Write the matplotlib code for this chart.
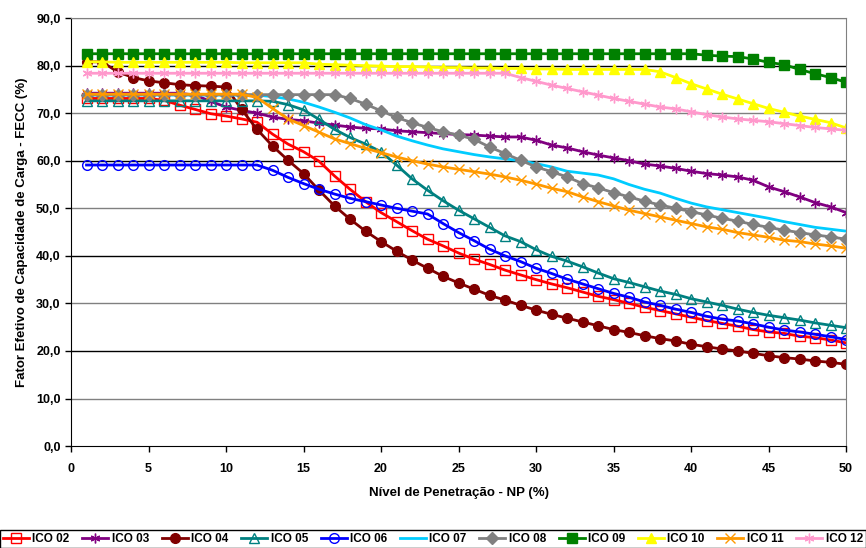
# FECC x nivel de penetracao, curvas ICO 02 a ICO 12
import matplotlib
matplotlib.use('Agg')
import matplotlib.pyplot as plt
from matplotlib.ticker import FuncFormatter

plt.rcParams['font.family'] = ['Liberation Sans', 'DejaVu Sans']
plt.rcParams['font.weight'] = 'bold'

np_pct = list(range(1, 51))

ico02 = [73.1, 73.1, 73.1, 73.1, 73.1, 72.7, 71.7, 70.8, 69.9, 69.4,
         68.8, 68.1, 65.6, 63.5, 61.9, 59.9, 56.8, 54.0, 51.4, 49.1,
         47.2, 45.3, 43.5, 42.1, 40.6, 39.3, 38.2, 37.0, 36.0, 35.0,
         34.1, 33.3, 32.4, 31.5, 30.8, 30.0, 29.2, 28.5, 27.8, 27.1,
         26.4, 25.8, 25.2, 24.5, 24.0, 23.7, 23.1, 22.8, 22.3, 21.7]
ico03 = [74.2, 74.2, 74.2, 74.2, 74.2, 74.2, 74.2, 73.8, 72.5, 71.3,
         70.6, 70.0, 69.2, 68.7, 68.4, 67.9, 67.5, 67.1, 66.8, 66.7,
         66.3, 66.1, 65.9, 65.7, 65.5, 65.4, 65.2, 65.0, 65.0, 64.3,
         63.3, 62.7, 61.9, 61.2, 60.6, 60.0, 59.3, 58.9, 58.4, 57.8,
         57.3, 57.0, 56.6, 55.9, 54.5, 53.5, 52.4, 51.2, 50.3, 49.1]
ico04 = [80.8, 80.8, 78.7, 77.5, 76.8, 76.4, 76.0, 75.8, 75.7, 75.5,
         70.8, 66.6, 63.1, 60.1, 57.3, 53.8, 50.5, 47.7, 45.2, 43.0,
         41.0, 39.1, 37.4, 35.7, 34.3, 33.0, 31.7, 30.7, 29.6, 28.6,
         27.7, 26.9, 26.1, 25.3, 24.5, 23.9, 23.2, 22.6, 22.1, 21.4,
         20.9, 20.4, 20.0, 19.5, 19.0, 18.6, 18.3, 17.9, 17.6, 17.2]
ico05 = [72.6, 72.6, 72.6, 72.6, 72.6, 72.6, 72.6, 72.6, 72.6, 72.6,
         72.6, 72.6, 72.5, 71.8, 70.7, 68.7, 66.6, 64.9, 63.5, 61.9,
         59.1, 56.2, 53.8, 51.6, 49.6, 47.8, 46.0, 44.2, 43.0, 41.3,
         39.9, 38.9, 37.7, 36.4, 35.2, 34.4, 33.5, 32.6, 31.9, 31.0,
         30.3, 29.6, 28.8, 28.1, 27.5, 27.0, 26.5, 25.9, 25.4, 24.9]
ico06 = [59.1, 59.1, 59.1, 59.1, 59.1, 59.1, 59.1, 59.1, 59.1, 59.1,
         59.1, 59.1, 58.0, 56.5, 55.2, 54.0, 53.0, 52.1, 51.4, 50.7,
         50.0, 49.4, 48.8, 46.8, 44.9, 43.2, 41.4, 40.0, 38.8, 37.4,
         36.3, 35.1, 34.1, 33.1, 32.1, 31.3, 30.3, 29.6, 28.8, 28.1,
         27.3, 26.7, 26.3, 25.7, 25.0, 24.4, 24.0, 23.5, 23.0, 22.4]
ico07 = [73.8, 73.8, 73.8, 73.8, 73.8, 73.8, 73.8, 73.8, 73.8, 73.8,
         73.8, 73.8, 73.5, 73.0, 72.3, 71.3, 70.2, 69.0, 67.6, 66.5,
         65.2, 64.2, 63.3, 62.5, 61.9, 61.3, 60.8, 60.4, 60.0, 59.4,
         58.7, 57.8, 57.4, 57.0, 56.2, 55.0, 54.0, 53.2, 52.1, 51.1,
         50.3, 49.7, 49.1, 48.5, 47.9, 47.2, 46.6, 46.0, 45.6, 45.2]
ico08 = [73.9, 73.9, 73.9, 73.9, 73.9, 73.9, 73.9, 73.9, 73.9, 73.9,
         73.9, 73.9, 73.9, 73.9, 73.9, 73.9, 73.9, 73.1, 71.9, 70.5,
         69.1, 68.0, 67.0, 66.1, 65.4, 64.5, 62.9, 61.5, 60.1, 58.7,
         57.7, 56.6, 55.2, 54.3, 53.3, 52.4, 51.5, 50.7, 50.0, 49.3,
         48.6, 47.9, 47.3, 46.6, 46.0, 45.4, 44.9, 44.4, 44.0, 43.5]
ico09 = [82.5, 82.5, 82.5, 82.5, 82.5, 82.5, 82.5, 82.5, 82.5, 82.5,
         82.5, 82.5, 82.5, 82.5, 82.5, 82.5, 82.5, 82.5, 82.5, 82.5,
         82.5, 82.5, 82.5, 82.5, 82.5, 82.5, 82.5, 82.5, 82.5, 82.5,
         82.5, 82.5, 82.5, 82.5, 82.5, 82.5, 82.5, 82.5, 82.5, 82.5,
         82.2, 82.0, 81.9, 81.4, 80.7, 80.2, 79.2, 78.3, 77.5, 76.5]
ico10 = [80.8, 80.8, 80.7, 80.7, 80.7, 80.7, 80.7, 80.7, 80.7, 80.7,
         80.6, 80.6, 80.6, 80.6, 80.6, 80.3, 80.2, 80.1, 80.0, 79.9,
         79.8, 79.8, 79.7, 79.6, 79.6, 79.5, 79.5, 79.4, 79.4, 79.3,
         79.3, 79.2, 79.2, 79.2, 79.2, 79.2, 79.2, 78.7, 77.5, 76.2,
         75.1, 74.0, 73.0, 72.0, 71.0, 70.2, 69.4, 68.7, 68.0, 66.9]
ico11 = [74.0, 74.0, 74.0, 74.0, 74.0, 74.0, 74.0, 74.0, 74.0, 74.0,
         74.0, 73.3, 71.0, 68.8, 67.4, 66.0, 64.6, 63.6, 62.6, 61.7,
         60.8, 60.0, 59.3, 58.7, 58.2, 57.7, 57.2, 56.6, 55.9, 55.1,
         54.2, 53.5, 52.4, 51.4, 50.5, 49.6, 48.9, 48.2, 47.5, 46.8,
         46.1, 45.6, 44.9, 44.4, 43.9, 43.3, 43.0, 42.5, 42.1, 41.6]
ico12 = [78.4, 78.4, 78.4, 78.4, 78.4, 78.4, 78.4, 78.4, 78.4, 78.4,
         78.4, 78.4, 78.4, 78.4, 78.4, 78.4, 78.4, 78.4, 78.4, 78.4,
         78.4, 78.4, 78.4, 78.4, 78.4, 78.4, 78.4, 78.4, 77.5, 76.7,
         75.9, 75.2, 74.5, 73.8, 73.1, 72.5, 71.9, 71.3, 70.9, 70.3,
         69.7, 69.2, 68.8, 68.5, 68.2, 67.8, 67.4, 67.0, 66.7, 66.4]

series = [
    ('ICO 02', ico02, '#FF0000', 's', 'none'),
    ('ICO 03', ico03, '#800080', (6, 2, 0), '#800080'),
    ('ICO 04', ico04, '#800000', 'o', '#800000'),
    ('ICO 05', ico05, '#008080', '^', 'none'),
    ('ICO 06', ico06, '#0000FF', 'o', 'none'),
    ('ICO 07', ico07, '#00CCFF', None, '#00CCFF'),
    ('ICO 08', ico08, '#808080', 'D', '#808080'),
    ('ICO 09', ico09, '#008000', 's', '#008000'),
    ('ICO 10', ico10, '#FFFF00', '^', '#FFFF00'),
    ('ICO 11', ico11, '#FF9900', 'x', '#FF9900'),
    ('ICO 12', ico12, '#FF99CC', (6, 2, 0), '#FF99CC'),
]

fig = plt.figure(figsize=(8.66, 5.48), dpi=100)
ax = fig.add_axes([0.082, 0.186, 0.895, 0.781])

# linhas de grade alternando preto / cinza como no original
for v in range(10, 100, 10):
    ax.axhline(v, color='black' if v % 20 == 0 else '#808080', lw=1, zorder=0)

for name, vals, col, mk, fc in series:
    ms = 6.5 if mk == 'D' else 7
    ax.plot(np_pct, vals, color=col, lw=2, marker=mk, markersize=ms,
            markerfacecolor=fc, markeredgecolor=col, markeredgewidth=1,
            label=name)

ax.set_xlim(0, 50)
ax.set_ylim(0, 90)
ax.set_xticks(range(0, 51, 5))
ax.set_yticks(range(0, 91, 10))
ax.yaxis.set_major_formatter(FuncFormatter(lambda v, p: f'{v:.1f}'.replace('.', ',')))
ax.tick_params(labelsize=9, direction='out', length=4, width=1)
for lab in ax.get_xticklabels() + ax.get_yticklabels():
    lab.set_fontweight('bold')
ax.tick_params(axis='x', pad=8)

ax.spines['left'].set_color('black')
ax.spines['bottom'].set_color('black')
ax.spines['right'].set_color('#808080')
ax.spines['top'].set_color('#808080')

ax.set_xlabel('Nível de Penetração - NP (%)', fontsize=9.5, fontweight='bold', labelpad=9)
ax.set_ylabel('Fator Efetivo de Capacidade de Carga - FECC (%)', fontsize=9.5,
              fontweight='bold', labelpad=6)

leg = fig.legend(loc='lower left', bbox_to_anchor=(0.0, 0.0, 1.0, 0.04),
                 mode='expand', ncol=11, borderaxespad=0,
                 handlelength=2.2, handletextpad=0.3, columnspacing=0.6,
                 fancybox=False, edgecolor='black', framealpha=1,
                 borderpad=0.25, prop={'weight': 'bold', 'size': 8.5})
leg.get_frame().set_linewidth(1)

fig.savefig('out.png', dpi=100)
